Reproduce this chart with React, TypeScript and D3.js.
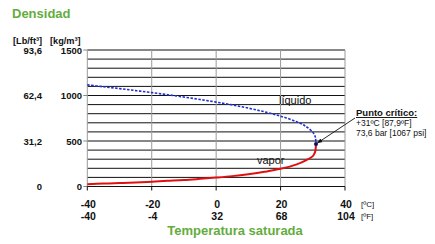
import React from "react";
import * as d3 from "d3";

const tempC = [-40, -35, -30, -25, -20, -15, -10, -5, 0, 5, 10, 15, 20, 25, 28, 30, 30.5, 30.8, 31];
const liquidDensity = [1117, 1096, 1076, 1054, 1032, 1008, 983, 956, 927, 897, 861, 821, 773, 711, 657, 596, 569, 542, 468];
const vaporDensity = [26, 32, 38, 45, 53, 62, 71, 84, 98, 114, 135, 161, 194, 243, 290, 334, 362, 391, 468];
const xTicksC = [-40, -20, 0, 20, 40];
const xTicksF = ["-40", "-4", "32", "68", "104"];
const yTicksKg = [0, 500, 1000, 1500];
const yTicksLb = ["0", "31,2", "62,4", "93,6"];
const critical = { t: 31, rho: 468 };

const GREEN = "#63ad3e";

export default function App() {
  const x = d3.scaleLinear().domain([-40, 40]).range([87.3, 345]);
  const y = d3.scaleLinear().domain([0, 1500]).range([186.5, 50]);
  const line = d3
    .line<[number, number]>()
    .x((d) => x(d[0]))
    .y((d) => y(d[1]))
    .curve(d3.curveCatmullRom.alpha(0.5));
  const liq = tempC.map((t, i) => [t, liquidDensity[i]] as [number, number]);
  const vap = tempC.map((t, i) => [t, vaporDensity[i]] as [number, number]);
  const hGrid = d3.range(100, 1501, 100);
  const cx = x(critical.t);
  const cy = y(critical.rho);
  const font = "'Liberation Sans', Arial, sans-serif";
  return (
    <svg
      width={435}
      height={244}
      style={{ position: "absolute", left: 0, top: 0, background: "#fff" }}
      fontFamily={font}
    >
      <defs>
        <marker id="arr" viewBox="0 0 10 10" refX="9" refY="5" markerWidth="6" markerHeight="6" orient="auto">
          <path d="M0,1 L10,5 L0,9 z" fill="#111" />
        </marker>
      </defs>
      <text x={12} y={18} fontSize={13} fontWeight="bold" fill={GREEN}>Densidad</text>
      <text x={13} y={44} fontSize={9.2} fontWeight="bold" fill="#111">[Lb/ft³]</text>
      <text x={50} y={44} fontSize={9.2} fontWeight="bold" fill="#111">[kg/m³]</text>

      {/* horizontal grid */}
      {hGrid.map((v) => (
        <line key={"h" + v} x1={x(-40)} x2={x(40)} y1={y(v)} y2={y(v)} stroke="#111" strokeWidth={1} />
      ))}
      {/* vertical grid */}
      {xTicksC.map((t) => (
        <line key={"v" + t} x1={x(t)} x2={x(t)} y1={y(1500)} y2={y(0)} stroke="#9a9a9a" strokeWidth={1} />
      ))}
      {/* y ticks */}
      {yTicksKg.map((v) => (
        <line key={"yt" + v} x1={x(-40) - 4} x2={x(-40)} y1={y(v)} y2={y(v)} stroke="#888" strokeWidth={1} />
      ))}
      {/* x axis */}
      <line x1={x(-40)} x2={x(40)} y1={y(0)} y2={y(0)} stroke="#111" strokeWidth={1} />
      {xTicksC.map((t) => (
        <line key={"xt" + t} x1={x(t)} x2={x(t)} y1={y(0)} y2={y(0) + 4} stroke="#111" strokeWidth={1} />
      ))}

      {/* y labels */}
      {yTicksKg.map((v, i) => (
        <g key={"yl" + v}>
          <text x={82} y={y(v) + 3.5} fontSize={9.5} fontWeight="bold" textAnchor="end" fill="#111">{v}</text>
          <text x={42} y={y(v) + 3.5} fontSize={9.5} fontWeight="bold" textAnchor="end" fill="#111">{yTicksLb[i]}</text>
        </g>
      ))}

      {/* x labels */}
      {xTicksC.map((t, i) => (
        <g key={"xl" + t}>
          <text x={x(t) + 1} y={208} fontSize={10.5} fontWeight="bold" textAnchor="middle" fill="#111">{t}</text>
          <text x={x(t) + 1} y={220} fontSize={10.5} fontWeight="bold" textAnchor="middle" fill="#111">{xTicksF[i]}</text>
        </g>
      ))}
      <text x={361} y={207} fontSize={8} fill="#111">[ºC]</text>
      <text x={361} y={219} fontSize={8} fill="#111">[ºF]</text>
      <text x={235} y={235} fontSize={13} fontWeight="bold" textAnchor="middle" fill={GREEN}>Temperatura saturada</text>

      {/* curves */}
      <path d={line(vap) || ""} fill="none" stroke="#e01010" strokeWidth={2} />
      <path d={line(liq) || ""} fill="none" stroke="#2030d0" strokeWidth={1.6} strokeDasharray="2.5,1.5" />
      <circle cx={cx} cy={cy} r={2} fill="#101060" />

      <text x={279} y={104} fontSize={11} fill="#111">líquido</text>
      <text x={257} y={164} fontSize={11} fill="#111">vapor</text>

      {/* annotation */}
      <line x1={355} y1={118} x2={cx + 1.5} y2={cy - 1} stroke="#111" strokeWidth={0.9} markerEnd="url(#arr)" />
      <text x={356} y={116} fontSize={9.5} fontWeight="bold" textDecoration="underline" fill="#111">Punto crítico:</text>
      <text x={356} y={126} fontSize={8.5} fill="#111">+31ºC  [87,9ºF]</text>
      <text x={356} y={136} fontSize={8.5} fill="#111">73,6 bar [1067 psi]</text>
    </svg>
  );
}
